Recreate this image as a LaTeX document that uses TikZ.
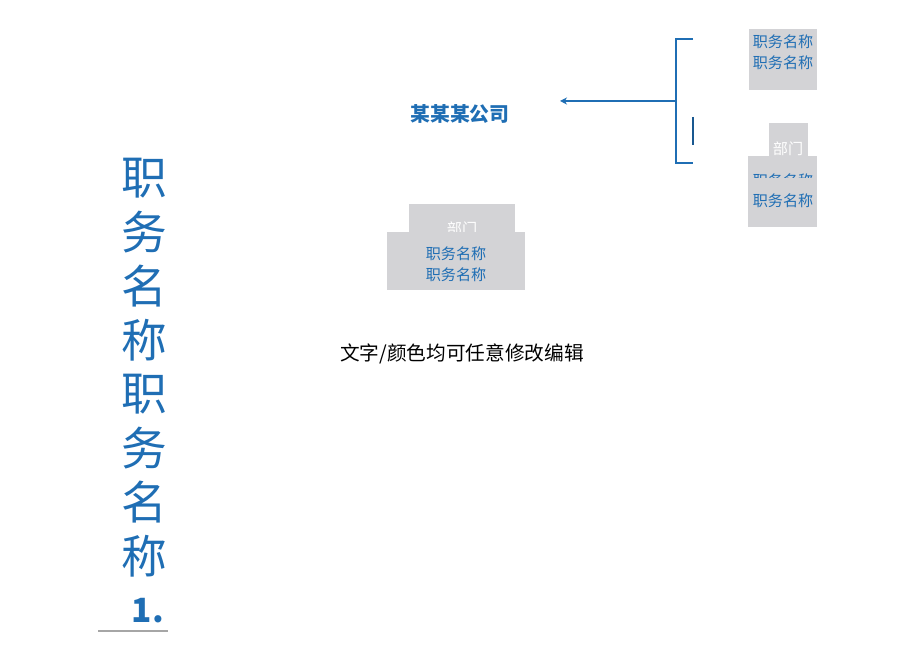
\documentclass[tikz,border=0pt]{standalone}
\usepackage{fontspec}
\setmainfont{Noto Sans CJK SC}
\usepackage{xcolor}
\usetikzlibrary{arrows.meta}

\definecolor{titleblue}{HTML}{1F6EB4}
\definecolor{boxgray}{HTML}{D3D3D6}

\tikzset{
  boxtext/.style={text=titleblue, font=\fontsize{8.6}{9}\selectfont, inner sep=0pt},
  depttext/.style={text=white, font=\fontsize{8.6}{9}\selectfont, inner sep=0pt},
  bigchar/.style={text=titleblue, font=\fontsize{26}{26}\selectfont, inner sep=0pt},
}

\begin{document}
\begin{tikzpicture}[x=0.02cm, y=-0.02cm]
        \useasboundingbox (0,0) rectangle (920,651);

        % Company
        \node[text=titleblue, font=\fontsize{11.3}{12}\selectfont\bfseries, inner sep=0pt] (comp) at (460,114) {某某某公司};

        % Bracket
        \draw[titleblue, line width=1.1pt] (693,39) -- (676,39) -- (676,163) -- (693,163);
        \draw[titleblue!80!black, line width=1.1pt] (693,117) -- (693,145);
        \coordinate (bmid) at (676,101);
        \coordinate (tip) at (560,101);
        \draw[titleblue, line width=0.8pt, -{Stealth[length=4pt, width=4pt]}] (bmid) -- (tip);

        % Right column
        \fill[boxgray] (749,29) rectangle (817,90);
        \node[boxtext] (posa) at (783,42) {职务名称};
        \node[boxtext] (posb) at (783,63) {职务名称};

        \fill[boxgray] (769,123) rectangle (808,156);
        \node[depttext] (depta) at (788,149) {部门};
        \fill[boxgray] (748,156) rectangle (817,227);
        \begin{scope}
          \clip (748,165) rectangle (817,178);
          \node[boxtext] (posc) at (783,181) {职务名称};
        \end{scope}
        \node[boxtext] (posd) at (783,201) {职务名称};

        % Middle block
        \fill[boxgray] (409,204) rectangle (515,232);
        \node[depttext] (deptb) at (462,229) {部门};
        \fill[boxgray] (387,232) rectangle (525,290);
        \node[boxtext] (pose) at (456,254) {职务名称};
        \node[boxtext] (posf) at (456,275) {职务名称};

        % Note
        \node[font=\fontsize{11.2}{12}\selectfont, inner sep=0pt] (note) at (462,354) {文字/颜色均可任意修改编辑};

        % Vertical title
        \foreach \c [count=\i] in {职,务,名,称,职,务,名,称}
          \node[bigchar] (v\i) at ({144},{178+54*(\i-1)}) {\c};
        \node[text=titleblue, font=\fontsize{19}{19}\selectfont\bfseries, inner sep=0pt, anchor=base] (num) at (148,623) {1.};
        \draw[gray!70, line width=0.6pt] (98,631) -- (168,631);
\end{tikzpicture}
\end{document}
